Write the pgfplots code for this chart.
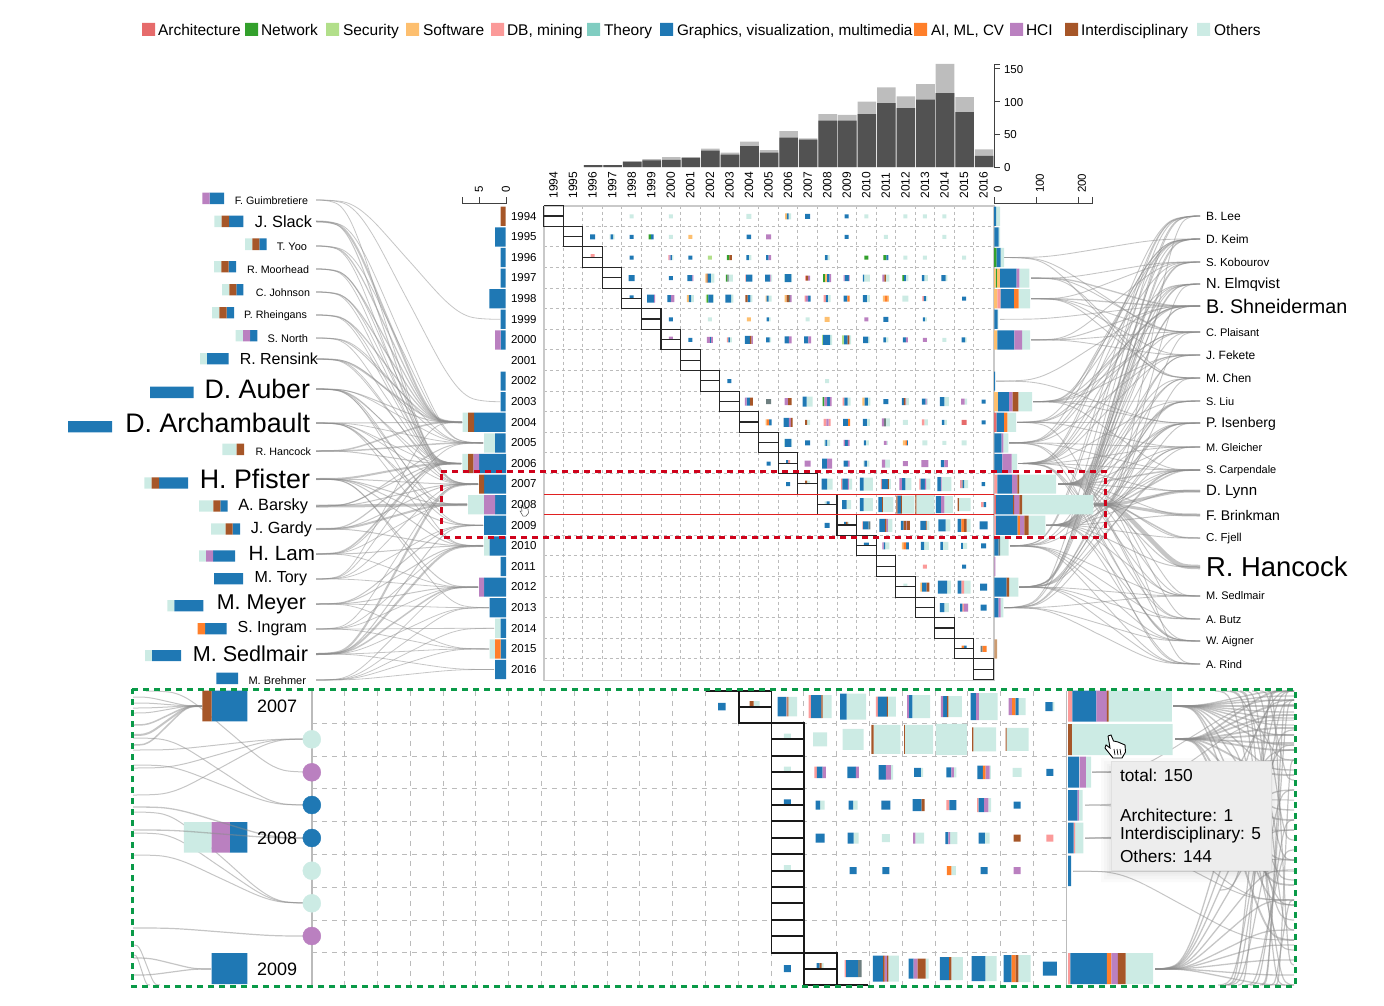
\documentclass[border=0pt]{standalone}
\usepackage{fontspec}
\setmainfont{Liberation Sans}
\usepackage{pgfplots}
\pgfplotsset{compat=1.18}
\definecolor{cA}{HTML}{E66B6B}
\definecolor{cN}{HTML}{33A02C}
\definecolor{cS}{HTML}{B2DF8A}
\definecolor{cW}{HTML}{FDBF6F}
\definecolor{cD}{HTML}{FB9A99}
\definecolor{cT}{HTML}{80CDC1}
\definecolor{cG}{HTML}{1F78B4}
\definecolor{cI}{HTML}{FF7F2A}
\definecolor{cH}{HTML}{BA80C0}
\definecolor{cB}{HTML}{A65628}
\definecolor{cO}{HTML}{CCEBE4}
\definecolor{cK}{HTML}{525252}
\definecolor{cL}{HTML}{BDBDBD}
\definecolor{cP}{HTML}{CC9C72}
\definecolor{cM}{HTML}{6E7F80}
\definecolor{linkc}{HTML}{8C8C8C}
\definecolor{gridc}{HTML}{BBBBBB}
\definecolor{redb}{HTML}{D0021B}
\definecolor{redl}{HTML}{E02020}
\definecolor{greenb}{HTML}{0A9A48}
\makeatletter
\@for\k:=A,N,S,W,D,T,G,I,H,B,O,K,L,P,M\do{\expandafter\gdef\csname Rc\k\endcsname{}}
\makeatother
\gdef\Grid{}\gdef\LensGrid{}\gdef\Box{}\gdef\LensBox{}
\newcommand\addrect[5]{\expandafter\xdef\csname Rc#1\endcsname{\csname Rc#1\endcsname(#2,#3)(#4,#3)(#4,#5)(#2,#5)(#2,#3)(nan,nan)}}
\newcommand\HB[6]{\pgfmathsetmacro\cxnow{#3+#5/#4}\xdef\cxnow{\cxnow}\foreach \cc/\ee in {#6}{\pgfmathsetmacro\nx{#3+\ee/#4}\addrect{\cc}{\cxnow}{#1}{\nx}{#2}\xdef\cxnow{\nx}}}
\newcommand\YB[5]{\pgfmathsetmacro\ya{216.3+20.6*(#1-1994)-9.6}\pgfmathsetmacro\yb{\ya+19.2}\HB{\ya}{\yb}{#2}{#3}{#4}{#5}}
\newcommand\G[5]{\pgfmathsetmacro\cxnow{#1-#3/2}\xdef\cxnow{\cxnow}\pgfmathsetmacro\ya{#2-#4/2}\pgfmathsetmacro\yb{#2+#4/2}\foreach \cc/\ff in {#5}{\pgfmathsetmacro\nx{\cxnow+#3*\ff}\addrect{\cc}{\cxnow}{\ya}{\nx}{\yb}\xdef\cxnow{\nx}}}
\newcommand\g[4]{\pgfmathsetmacro\gx{553.48+19.55*(#2-1994)}\pgfmathsetmacro\gy{216.3+20.6*(#1-1994)}\G{\gx}{\gy}{#3}{#3}{#4}}
\newcommand\gd[3]{\pgfmathsetmacro\gx{553.48+19.55*(#1-1994)}\pgfmathsetmacro\gy{216.3+20.6*(#1-1994)-1.7}\G{\gx}{\gy}{#2}{3.4}{#3}}
\newcommand\gl[4]{\pgfmathsetmacro\gx{311.8+32.8*(#2+.5)}\G{\gx}{#1}{#3}{#3}{#4}}
\newcommand\gld[4]{\pgfmathsetmacro\gx{311.8+32.8*(#2+.5)}\pgfmathsetmacro\gy{#1-2.8}\G{\gx}{\gy}{#3}{5.6}{#4}}
\newcommand\topbar[3]{\pgfmathsetmacro\xa{544.7+19.55*(#1-1994)}\pgfmathsetmacro\xb{\xa+18.6}\pgfmathsetmacro\yd{167-.653*#2}\pgfmathsetmacro\yt{167-.653*#3}\addrect{L}{\xa}{\yt}{\xb}{167}\addrect{K}{\xa}{\yd}{\xb}{167}}
\newcommand\lnk[5]{\pgfmathsetmacro\dx{#3-(#1)}\pgfmathsetmacro\dy{#4-(#2)}%
\pgfmathsetmacro\xa{#1+.166*\dx}\pgfmathsetmacro\ya{#2+.022*\dy}%
\pgfmathsetmacro\xb{#1+.297*\dx}\pgfmathsetmacro\yb{#2+.156*\dy}%
\pgfmathsetmacro\xc{#1+.5*\dx}\pgfmathsetmacro\yc{#2+.5*\dy}%
\pgfmathsetmacro\xd{#1+.703*\dx}\pgfmathsetmacro\yd{#2+.844*\dy}%
\pgfmathsetmacro\xe{#1+.834*\dx}\pgfmathsetmacro\ye{#2+.978*\dy}%
\edef\temp{\noexpand\addplot[color=linkc,opacity=.5,smooth,tension=.55,line width=#5pt,forget plot] coordinates {(#1,#2)(\xa,\ya)(\xb,\yb)(\xc,\yc)(\xd,\yd)(\xe,\ye)(#3,#4)};}\temp}
\newcommand\AL[2]{\foreach \yr/\wt in {#2}{\edef\ex{\csname Lx\yr\endcsname}\pgfmathsetmacro\ey{216.3+20.6*(\yr-1994)}\lnk{316}{#1}{\ex}{\ey}{\wt}}}
\newcommand\AR[2]{\foreach \yr/\wt in {#2}{\edef\ex{\csname Rx\yr\endcsname}\pgfmathsetmacro\ey{216.3+20.6*(\yr-1994)}\lnk{\ex}{\ey}{1200}{#1}{\wt}}}
\newcommand\T[5]{\node[anchor=#4,inner sep=0pt,outer sep=0pt,yshift=-.5pt,font=\fontsize{#3}{#3}\selectfont] at (axis cs:#1,#2) {#5};}
\newcommand\TB[4]{\node[anchor=base west,inner sep=0pt,outer sep=0pt,font=\fontsize{#3}{#3}\selectfont] at (axis cs:#1,#2) {#4};}
\newcommand\TR[5]{\node[anchor=#4,rotate=90,inner sep=0pt,outer sep=0pt,font=\fontsize{#3}{#3}\selectfont] at (axis cs:#1,#2) {#5};}
\foreach \yr/\v in {1994/500,1995/494,1996/500,1997/500,1998/488,1999/500,2000/494,2001/505,2002/500,2003/500,2004/462,2005/483,2006/461,2007/478,2008/467,2009/483,2010/483,2011/500,2012/478,2013/489,2014/494,2015/489,2016/494}{\expandafter\xdef\csname Lx\yr\endcsname{\v}}
\foreach \yr/\v in {1994/1001,1995/1001,1996/1004,1997/1031,1998/1031,1999/1000,2000/1031,2001/996,2002/996,2003/1033,2004/1017,2005/1009,2006/1018,2007/1058,2008/1094,2009/1046,2010/1010,2011/997,2012/1019,2013/1004,2014/996,2015/998,2016/996}{\expandafter\xdef\csname Rx\yr\endcsname{\v}}
\begin{document}
\begin{tikzpicture}
\path[use as bounding box] (0,0) rectangle (1384pt,1006pt);
% ---------- legend swatches
\addrect{A}{142}{23}{155}{36}\addrect{N}{245}{23}{258}{36}\addrect{S}{326}{23}{339}{36}\addrect{W}{406}{23}{419}{36}\addrect{D}{491}{23}{504}{36}\addrect{T}{587}{23}{600}{36}\addrect{G}{660}{23}{673}{36}\addrect{I}{914}{23}{927}{36}\addrect{H}{1010}{23}{1023}{36}\addrect{B}{1065}{23}{1078}{36}\addrect{O}{1197}{23}{1210}{36}
% ---------- top histogram
\topbar{1996}{3}{3}\topbar{1997}{3}{3}\topbar{1998}{8}{9}\topbar{1999}{10}{12}\topbar{2000}{11}{15}\topbar{2001}{14}{15}\topbar{2002}{25}{28}\topbar{2003}{19}{22}\topbar{2004}{32}{39}\topbar{2005}{22}{26}\topbar{2006}{45}{55}\topbar{2007}{42}{44}\topbar{2008}{71}{81}\topbar{2009}{71}{80}\topbar{2010}{81}{100}\topbar{2011}{98}{122}\topbar{2012}{90}{108}\topbar{2013}{103}{127}\topbar{2014}{113}{158}\topbar{2015}{84}{107}\topbar{2016}{17}{27}
% ---------- left year bars
\YB{1994}{460}{3}{122}{B/137}\YB{1995}{460}{3}{105}{G/137}\YB{1996}{460}{3}{122}{G/137}\YB{1997}{460}{3}{122}{G/137}\YB{1998}{460}{3}{88}{G/137}\YB{1999}{460}{3}{122}{G/137}\YB{2000}{460}{3}{105}{H/122,G/137}\YB{2002}{460}{3}{122}{G/137}\YB{2003}{460}{3}{122}{G/137}\YB{2004}{460}{3}{8}{O/24,B/42,G/137}\YB{2005}{460}{3}{72}{O/105,G/137}
\YB{2006}{440}{3}{67}{O/84,B/100,H/117,G/198}\YB{2007}{440}{3}{117}{B/132,G/198}\YB{2008}{440}{3}{84}{O/132,H/165,G/198}\YB{2009}{440}{3}{132}{G/198}\YB{2010}{440}{3}{132}{O/149,G/198}\YB{2011}{440}{3}{182}{G/198}\YB{2012}{440}{3}{117}{H/132,G/198}\YB{2013}{440}{3}{149}{G/198}\YB{2014}{440}{3}{165}{O/182,G/198}\YB{2015}{440}{3}{149}{O/165,I/182,G/198}\YB{2016}{440}{3}{165}{G/198}
% ---------- right year bars
\YB{1994}{750}{3}{732}{G/738,O/750}\YB{1995}{750}{3}{733}{G/746,O/750}\YB{1996}{750}{3}{732}{N/740,G/752,O/762}\YB{1997}{750}{3}{732}{W/737,N/741,W/750,G/800,H/808,O/838}\YB{1998}{750}{3}{732}{W/742,D/752,G/792,I/806,O/840}\YB{1999}{750}{3}{733}{G/743,O/745}\YB{2000}{750}{3}{732}{W/742,G/793,H/816,O/840}\YB{2002}{750}{3}{732}{G/735}\YB{2003}{750}{3}{732}{W/744,G/777,H/788,B/805,O/846}\YB{2004}{750}{3}{732}{A/740,G/762,I/772,O/798}
\YB{2005}{760}{3}{703}{G/725,H/730,O/745}\YB{2006}{760}{3}{703}{G/727,H/755,O/771}\YB{2007}{760}{3}{703}{D/712,G/756,H/772,B/777,O/888}\YB{2008}{760}{3}{703}{A/708,G/759,B/762,H/778,B/786,O/1000}\YB{2009}{760}{3}{703}{D/708,G/773,I/780,H/793,B/806,O/856}\YB{2010}{760}{3}{703}{G/716,M/720,O/746}\YB{2011}{760}{3}{703}{H/706}\YB{2012}{760}{3}{703}{G/740,B/747,O/775}\YB{2013}{760}{3}{703}{G/716,H/722,O/730}\YB{2015}{760}{3}{703}{P/711}
% ---------- author bars, left
\HB{192.7}{204}{60}{3}{427}{H/449,G/492}\HB{215.7}{227}{60}{3}{463}{O/485,B/507,G/550}\HB{238.3}{250}{60}{3}{555}{O/577,B/598,G/620}\HB{261}{272.3}{60}{3}{462}{O/484,B/506,G/528}\HB{284}{295.3}{60}{3}{486}{O/508,B/529,G/550}\HB{307}{318.3}{60}{3}{456}{O/478,B/500,G/522}\HB{330}{341.3}{60}{3}{527}{O/549,H/570,G/592}\HB{353}{364.3}{60}{3}{420}{O/441,G/506}\HB{386.7}{398}{60}{3}{270}{G/401}\HB{421}{432.3}{60}{3}{24}{G/156}
\HB{443.7}{455}{60}{3}{487}{O/530,B/552}\HB{477.3}{488.7}{60}{3}{253}{O/275,B/297,G/384}\HB{500.3}{511.7}{60}{3}{417}{O/460,B/481,G/503}\HB{523.3}{534.7}{60}{3}{453}{O/497,B/518,G/540}\HB{550.3}{561.7}{60}{3}{417}{O/438,H/459,G/525}\HB{573}{584.3}{60}{3}{462}{G/549}\HB{600}{611.3}{60}{3}{322}{O/343,G/430}\HB{623}{634.3}{60}{3}{413}{I/435,G/500}\HB{650}{661}{60}{3}{255}{O/276,G/363}\HB{672.7}{684}{60}{3}{469}{G/534}
% ---------- matrix glyphs
\g{1994}{1998}{4}{O/1}\g{1994}{2000}{4}{O/1}\g{1994}{2004}{5}{O/1}\g{1994}{2006}{6}{W/.3,G/.3,O/.4}\g{1994}{2007}{5}{G/1}\g{1994}{2009}{4}{G/1}\g{1994}{2010}{4}{O/1}\g{1994}{2012}{4}{O/1}\g{1994}{2013}{4}{O/1}\g{1994}{2014}{4}{O/1}
\g{1995}{1996}{5}{G/1}\g{1995}{1997}{5}{O/.2,G/.5,O/.3}\g{1995}{1998}{4}{G/1}\g{1995}{1999}{5}{N/.5,G/.5}\g{1995}{2000}{4}{O/1}\g{1995}{2001}{4}{W/1}\g{1995}{2004}{4.5}{G/1}\g{1995}{2005}{5}{H/1}\g{1995}{2009}{4}{G/1}\g{1995}{2011}{4}{O/1}\g{1995}{2014}{4}{O/1}
\gd{1996}{4}{D/1}\g{1996}{1998}{4}{G/1}\g{1996}{2000}{5}{D/.2,H/.2,G/.3,O/.3}\g{1996}{2001}{4}{G/1}\g{1996}{2002}{4}{S/1}\g{1996}{2003}{5}{N/.5,B/.5}\g{1996}{2004}{5}{G/.5,O/.5}\g{1996}{2005}{5}{G/.5,H/.5}\g{1996}{2008}{5}{O/.1,G/.5,O/.4}\g{1996}{2010}{4}{N/1}\g{1996}{2011}{5}{N/.6,G/.4}\g{1996}{2012}{4}{O/1}\g{1996}{2013}{4}{O/1}\g{1996}{2015}{4}{O/1}
\g{1997}{1998}{6}{G/1}\g{1997}{2000}{4}{G/1}\g{1997}{2001}{6}{G/.85,H/.15}\g{1997}{2002}{9}{W/.15,B/.1,G/.35,O/.4}\g{1997}{2003}{7}{N/.2,M/.2,O/.6}\g{1997}{2004}{7}{D/.1,G/.9}\g{1997}{2005}{7}{G/.7,H/.1,O/.2}\g{1997}{2006}{8}{O/.1,G/.8,O/.1}\g{1997}{2007}{5}{D/.2,B/.4,H/.4}\g{1997}{2008}{8}{N/.25,W/.25,G/.3,H/.2}\g{1997}{2009}{6}{H/.15,G/.7,H/.15}\g{1997}{2010}{7}{G/.2,O/.8}\g{1997}{2011}{7}{H/.3,B/.2,O/.5}\g{1997}{2012}{6}{N/.3,G/.3,O/.4}\g{1997}{2013}{6}{G/.4,O/.6}\g{1997}{2014}{6}{G/.7,O/.3}
\gd{1998}{4}{G/1}\g{1998}{1999}{8}{G/.85,H/.15}\g{1998}{2000}{7}{G/.5,H/.5}\g{1998}{2001}{7}{W/.3,G/.3,O/.4}\g{1998}{2002}{8}{S/.15,N/.15,G/.6,O/.1}\g{1998}{2003}{8}{G/.7,O/.3}\g{1998}{2004}{7}{B/.3,G/.4,O/.3}\g{1998}{2005}{6}{W/.2,G/.3,O/.5}\g{1998}{2006}{7}{W/.3,B/.3,M/.2,H/.2}\g{1998}{2007}{6}{D/.2,H/.4,G/.4}\g{1998}{2008}{7}{D/.3,G/.3,O/.4}\g{1998}{2009}{6}{G/.6,I/.4}\g{1998}{2010}{7}{G/.6,O/.4}\g{1998}{2011}{6}{W/.3,I/.5,W/.2}\g{1998}{2012}{6}{O/1}\g{1998}{2013}{5}{D/.3,G/.4,O/.3}\g{1998}{2015}{4}{G/1}
\g{1999}{2000}{4}{G/1}\g{1999}{2002}{4}{O/1}\g{1999}{2004}{4}{W/1}\g{1999}{2005}{4}{G/.6,O/.4}\g{1999}{2007}{4}{O/1}\g{1999}{2008}{5}{W/1}\g{1999}{2010}{4}{H/1}\g{1999}{2011}{5}{G/1}\g{1999}{2013}{4}{G/.5,O/.5}
\gd{2000}{4}{H/1}\g{2000}{2001}{4}{G/1}\g{2000}{2002}{6}{H/.5,G/.2,H/.3}\g{2000}{2003}{5}{D/.3,G/.3,O/.4}\g{2000}{2004}{8}{G/.6,B/.2,H/.2}\g{2000}{2005}{5}{G/.7,O/.3}\g{2000}{2006}{7}{G/.6,H/.4}\g{2000}{2007}{7}{G/.6,H/.4}\g{2000}{2008}{10}{S/.1,G/.7,O/.2}\g{2000}{2009}{9}{S/.2,G/.4,B/.2,O/.2}\g{2000}{2010}{6.5}{G/.8,O/.2}\g{2000}{2011}{5}{G/.5,O/.5}\g{2000}{2012}{5}{G/.6,H/.4}\g{2000}{2013}{4}{H/1}\g{2000}{2014}{4}{O/1}\g{2000}{2015}{5}{G/.7,O/.3}
\g{2002}{2003}{4}{G/1}\g{2002}{2008}{4}{O/1}
\g{2003}{2004}{8}{H/.2,G/.4,B/.4}\g{2003}{2005}{5}{M/1}\g{2003}{2006}{7}{H/.5,B/.5}\g{2003}{2007}{10}{G/.4,O/.6}\g{2003}{2008}{9}{N/.2,H/.3,G/.3,H/.2}\g{2003}{2009}{8}{D/.2,G/.4,O/.4}\g{2003}{2010}{8}{W/.3,G/.4,O/.3}\g{2003}{2011}{5}{G/1}\g{2003}{2012}{7}{G/.3,B/.2,H/.1,O/.4}\g{2003}{2013}{6}{G/.6,H/.2,O/.2}\g{2003}{2014}{9}{G/.5,O/.5}\g{2003}{2015}{6}{H/.6,O/.4}\g{2003}{2016}{4}{G/1}
\g{2004}{2005}{6}{W/.2,I/.4,G/.4}\g{2004}{2006}{9}{G/.6,H/.2,B/.2}\g{2004}{2007}{5}{B/.4,O/.6}\g{2004}{2008}{7}{D/.4,H/.3,D/.3}\g{2004}{2009}{7}{G/.7,I/.3}\g{2004}{2010}{7}{G/.6,O/.4}\g{2004}{2011}{8}{H/.3,M/.2,O/.5}\g{2004}{2012}{5}{O/1}\g{2004}{2013}{6}{D/.4,O/.6}\g{2004}{2014}{5}{G/.5,O/.5}\g{2004}{2015}{5}{A/1}\g{2004}{2016}{4}{G/1}
\g{2005}{2006}{8}{O/.1,G/.8,O/.1}\g{2005}{2007}{5}{G/1}\g{2005}{2008}{6}{O/.2,G/.3,O/.5}\g{2005}{2009}{6}{H/.2,G/.5,H/.3}\g{2005}{2010}{5}{G/.4,O/.6}\g{2005}{2011}{4}{H/.7,O/.3}\g{2005}{2012}{5}{W/.5,I/.3,G/.2}\g{2005}{2013}{5}{O/1}\g{2005}{2014}{4}{O/1}\g{2005}{2015}{5}{O/1}
\g{2006}{2005}{4}{G/1}\gd{2006}{4}{G/.5,D/.5}\g{2006}{2007}{6}{H/1}\g{2006}{2008}{10}{G/.5,H/.5}\g{2006}{2009}{6}{G/.7,H/.3}\g{2006}{2010}{6}{O/.2,G/.4,O/.4}\g{2006}{2011}{8}{H/.4,O/.6}\g{2006}{2012}{5}{H/1}\g{2006}{2013}{7}{H/1}\g{2006}{2014}{7}{G/.5,H/.5}
\g{2007}{2006}{4}{G/1}\gd{2007}{5}{B/.4,O/.6}\g{2007}{2008}{11}{G/.5,O/.5}\g{2007}{2009}{11}{D/.1,G/.5,H/.1,O/.3}\g{2007}{2010}{13}{G/.3,O/.7}\g{2007}{2011}{10}{D/.1,G/.6,B/.1,O/.2}\g{2007}{2012}{12}{H/.2,G/.3,O/.5}\g{2007}{2013}{11}{D/.1,G/.4,H/.1,O/.4}\g{2007}{2014}{14}{G/.25,H/.05,O/.7}\g{2007}{2015}{8}{D/.1,H/.1,I/.1,G/.2,O/.5}\g{2007}{2016}{4}{G/.8,O/.2}
\gd{2008}{5}{O/.4,G/.6}\g{2008}{2009}{9}{G/.5,O/.5}\g{2008}{2010}{13}{G/.3,O/.7}\g{2008}{2011}{15}{G/.25,B/.05,O/.7}\g{2008}{2012}{18}{B/.05,G/.2,B/.05,O/.7}\g{2008}{2013}{19}{B/.05,O/.95}\g{2008}{2014}{17}{G/.3,H/.2,O/.5}\g{2008}{2015}{13}{B/.1,O/.9}\g{2008}{2016}{5}{D/.5,G/.5}
\g{2009}{2008}{5}{G/1}\gd{2009}{5}{G/.4,B/.3,O/.3}\g{2009}{2010}{8}{D/.1,G/.7,M/.2}\g{2009}{2011}{13}{G/.45,B/.1,H/.1,O/.35}\g{2009}{2012}{9}{G/.3,B/.3,H/.1,B/.3}\g{2009}{2013}{9}{G/.6,B/.1,O/.3}\g{2009}{2014}{12}{G/.6,O/.4}\g{2009}{2015}{13}{G/.3,I/.2,B/.2,O/.3}\g{2009}{2016}{8}{G/1}
\gd{2010}{5}{G/1}\g{2010}{2011}{7}{H/.2,G/.2,O/.6}\g{2010}{2012}{7}{W/.2,I/.4,G/.4}\g{2010}{2013}{8}{G/.4,O/.6}\g{2010}{2014}{8}{G/.3,O/.7}\g{2010}{2015}{6}{G/.3,O/.7}\g{2010}{2016}{5}{G/1}
\g{2011}{2013}{4}{D/1}\g{2011}{2015}{4}{G/1}
\gd{2012}{4}{O/1}\g{2012}{2013}{9}{W/.2,G/.5,B/.3}\g{2012}{2014}{13}{G/.7,O/.3}\g{2012}{2015}{13}{G/.3,D/.2,O/.5}\g{2012}{2016}{7}{G/1}
\g{2013}{2014}{9}{G/.5,O/.5}\g{2013}{2015}{8}{G/.3,D/.2,H/.5}\g{2013}{2016}{6}{G/1}
\gd{2015}{5}{I/.5,G/.5}\g{2015}{2016}{6}{M/.3,I/.7}
% ---------- lens glyphs and bars
\HB{690.7}{721.3}{130}{2.613}{189}{B/213,G/307}\HB{822}{852.7}{130}{2.613}{141}{O/213,H/261,G/307}\HB{953}{984}{130}{2.613}{213}{G/307}
\HB{690.7}{721.7}{700}{2.613}{962}{D/973,G/1036,H/1063,B/1068,O/1233}\HB{724}{755}{700}{2.613}{962}{B/972,O/1235}\HB{756.7}{787.7}{700}{2.613}{962}{G/990,O/992,H/1008,O/1022}\HB{790}{820.7}{700}{2.613}{962}{G/987,H/990,O/1000}\HB{822.7}{853.3}{700}{2.613}{962}{G/976,D/980,O/1002}\HB{855.7}{886}{700}{2.613}{962}{G/970}\HB{953}{984}{700}{2.613}{962}{D/968,G/1063,I/1075,H/1092,B/1112,O/1184}
\gl{706.7}{12}{7.5}{G/1}\gld{706.7}{13}{10}{B/.4,O/.6}\gl{706.7}{14}{19.5}{G/.45,D/.05,B/.05,O/.45}\gl{706.7}{15}{23}{D/.1,G/.45,B/.05,O/.4}\gl{706.7}{16}{26}{G/.25,O/.75}\gl{706.7}{17}{20}{D/.1,G/.45,B/.05,O/.4}\gl{706.7}{18}{23}{H/.08,G/.15,O/.77}\gl{706.7}{19}{21}{H/.1,G/.2,B/.05,O/.65}\gl{706.7}{20}{27}{G/.2,H/.1,O/.7}\gl{706.7}{21}{17}{H/.2,I/.2,G/.2,O/.4}\gl{706.7}{22}{9}{G/.8,O/.2}
\gld{739.3}{14}{7}{O/1}\gl{739.3}{15}{14}{O/1}\gl{739.3}{16}{21}{O/1}\gl{739.3}{17}{29}{B/.08,O/.92}\gl{739.3}{18}{29}{B/.03,O/.97}\gl{739.3}{19}{31}{O/1}\gl{739.3}{20}{24}{B/.05,O/.95}\gl{739.3}{21}{23}{B/.05,O/.95}
\gld{772.3}{14}{7}{O/1}\gl{772.3}{15}{11.5}{D/.2,G/.5,H/.3}\gl{772.3}{16}{11.5}{G/.75,H/.25}\gl{772.3}{17}{14.5}{G/.5,H/.35,O/.15}\gl{772.3}{18}{9}{G/.75,O/.25}\gl{772.3}{19}{10}{G/.5,H/.25,O/.25}\gl{772.3}{20}{13.5}{G/.4,I/.2,H/.3,O/.1}\gl{772.3}{21}{9}{O/1}\gl{772.3}{22}{7}{G/1}
\gld{805}{14}{7}{G/1}\gl{805}{15}{9}{G/.5,O/.5}\gl{805}{16}{9}{G/.5,O/.5}\gl{805}{17}{9}{G/1}\gl{805}{18}{12}{G/.75,B/.25}\gl{805}{19}{10}{D/.3,G/.7}\gl{805}{20}{14}{D/.1,G/.4,H/.3,O/.2}\gl{805}{21}{7}{G/1}
\gl{838}{15}{9}{G/1}\gl{838}{16}{11}{G/.55,O/.45}\gl{838}{17}{8}{O/1}\gl{838}{18}{11}{H/.2,O/.8}\gl{838}{19}{12}{G/.25,H/.15,O/.6}\gl{838}{20}{11}{G/.55,O/.45}\gl{838}{21}{7}{B/1}\gl{838}{22}{7}{D/1}
\gld{870.7}{14}{7}{O/1}\gl{870.7}{16}{7}{G/1}\gl{870.7}{17}{7}{G/1}\gl{870.7}{19}{9}{I/.5,O/.5}\gl{870.7}{20}{7}{G/1}\gl{870.7}{21}{7}{H/1}
\gl{968.7}{14}{7}{G/1}\gld{968.7}{15}{7}{G/.4,B/.3,O/.3}\gl{968.7}{16}{17}{D/.1,G/.7,M/.2}\gl{968.7}{17}{26}{G/.4,B/.05,H/.1,B/.05,O/.4}\gl{968.7}{18}{20}{G/.25,H/.2,B/.4,O/.15}\gl{968.7}{19}{23}{G/.4,B/.1,O/.5}\gl{968.7}{20}{25}{G/.55,O/.45}\gl{968.7}{21}{27}{G/.3,I/.15,B/.1,O/.45}\gl{968.7}{22}{14}{G/1}
% ---------- grids and diagonal boxes
\foreach \i in {1,...,22}{\pgfmathsetmacro\px{543.7+19.55*\i}\pgfmathsetmacro\py{205.7+20.6*\i}\xdef\Grid{\Grid(\px,205.7)(\px,679.5)(nan,nan)(543.7,\py)(993.4,\py)(nan,nan)}}
\foreach \i in {0,...,22}{\pgfmathsetmacro\xa{543.7+19.55*\i}\pgfmathsetmacro\xb{\xa+19.55}\pgfmathsetmacro\ya{205.7+20.6*\i}\pgfmathsetmacro\yb{\ya+20.6}\pgfmathsetmacro\yc{\ya+10.3}\xdef\Box{\Box(\xa,\ya)(\xb,\ya)(\xb,\yb)(\xa,\yb)(\xa,\ya)(nan,nan)(\xa,\yc)(\xb,\yc)(nan,nan)}}
\foreach \i in {1,...,22}{\pgfmathsetmacro\px{311.8+32.8*\i}\xdef\LensGrid{\LensGrid(\px,690.7)(\px,985)(nan,nan)}}
\foreach \py in {723.3,756,788.7,821.3,854.3,887,920,952.7}{\xdef\LensGrid{\LensGrid(311.8,\py)(1066.6,\py)(nan,nan)}}
\foreach \xa/\xb/\ya/\yc/\yb in {738.7/771.6/690.7/706.7/723.3,771.6/804.2/723.3/739.3/756,771.6/804.2/756/772.3/788.7,771.6/804.2/788.7/805/821.3,771.6/804.2/821.3/838/854.3,771.6/804.2/854.3/870.7/887,771.6/804.2/887/903.3/920,771.6/804.2/920/936/952.7,804.2/837/952.7/968.7/985}{\xdef\LensBox{\LensBox(\xa,\ya)(\xb,\ya)(\xb,\yb)(\xa,\yb)(\xa,\ya)(nan,nan)(\xa,\yc)(\xb,\yc)(nan,nan)}}
\xdef\LensBox{\LensBox(706,690.7)(738.7,690.7)(nan,nan)(837,985)(868,985)(nan,nan)}
\begin{axis}[at={(0,0)},anchor=south west,scale only axis,width=1384pt,height=1006pt,
  xmin=0,xmax=1384,ymin=0,ymax=1006,y dir=reverse,hide axis,clip=false,
  unbounded coords=jump,filter discard warning=false]
% grids
\edef\temp{\noexpand\addplot[color=gridc,line width=.9pt,dash pattern=on 3pt off 3pt,forget plot] coordinates {\Grid};}\temp
\edef\temp{\noexpand\addplot[color=gridc,line width=1pt,dash pattern=on 5pt off 5pt,forget plot] coordinates {\LensGrid};}\temp
\addplot[color=gridc!80,line width=1.6pt,forget plot] coordinates {(543.7,205.7)(543.7,680.3)(994,680.3)(994,205)(nan,nan)(543.7,205.7)(994,205.7)};
\addplot[color=gridc,line width=1.6pt,forget plot] coordinates {(311.8,690.7)(311.8,985)(nan,nan)(1066.6,690.7)(1066.6,985)};
% author links, left
\AL{200}{1999/.8,2003/.8,2006/.8}
\AL{221.5}{2004/2,2005/.8,2006/1}
\AL{246}{2004/1.2,2005/.8,2006/.8}
\AL{269}{2004/1.2,2006/.8,2007/.8}
\AL{292}{2004/1.2,2006/.8,2007/.8}
\AL{315}{2004/1.2,2006/.8,2007/.8}
\AL{338}{2004/1,2005/.8,2006/.8}
\AL{359}{2004/1.5,2005/.8,2006/.8,2007/.8}
\AL{389}{2004/1,2005/.8,2006/.8,2007/.8,2008/.8,2009/.8,2010/.8}
\AL{423}{2004/1,2005/.8,2006/.8,2007/.8,2008/.8,2009/.8,2010/.8}
\AL{451}{2004/1.5,2005/1.5,2006/1}
\AL{479}{2006/2,2007/1,2008/1,2009/1,2010/1,2012/1,2013/.8}
\AL{506}{2005/1,2006/1,2007/1,2008/3}
\AL{529}{2006/1.2,2007/1,2008/2,2010/1}
\AL{554}{2005/.8,2006/1.5,2008/.8,2010/1,2012/.8}
\AL{579}{2004/.8,2006/.8,2007/.8,2009/.8,2012/.8}
\AL{604}{2009/1,2010/1,2012/1,2013/.8,2015/.8}
\AL{629}{2007/.8,2010/.8,2012/.8,2014/.8,2015/.8}
\AL{654}{2007/2,2009/1,2010/2,2012/1.5,2013/.8,2015/.8,2016/.8}
\AL{680}{2012/.8,2013/.8,2014/.8,2015/.8,2016/.8}
% author links, right
\AR{216}{2006/.9,2007/.9,2008/.9,2009/.9,2010/.9,2012/.9,2013/.9}
\AR{239}{1996/.9,2003/.9,2004/.9,2005/.9,2006/.9,2007/.9,2009/.9,2010/.9,2012/.9}
\AR{262}{1997/.9,1998/.9,2000/.9,2003/.9,2007/.9,2009/.9,2012/.9}
\AR{284}{2005/.9,2006/.9,2007/.9,2008/.9,2009/.9,2012/.9,2013/.9}
\AR{306}{1997/1.3,1998/1.3,1999/.9,2000/1,2002/.9,2003/1,2004/1,2005/.9,2006/.9,2007/.9,2009/.9}
\AR{332}{1996/.9,1997/.9,1998/.9,2000/.9,2003/.9,2004/.9,2006/.9,2007/.9,2008/.9}
\AR{355}{1998/.9,2000/.9,2003/.9,2005/.9,2006/.9,2007/.9,2009/.9}
\AR{378}{1996/.9,1997/.9,1998/.9,2007/.9,2008/.9,2009/.9,2010/.9}
\AR{401}{2003/.9,2006/.9,2007/.9,2009/.9,2012/.9,2013/.9}
\AR{423}{2002/.9,2003/.9,2004/.9,2007/.9,2008/.9,2009/.9,2010/.9,2012/.9,2013/.9}
\AR{447}{2004/.9,2005/.9,2006/.9,2007/.9,2008/.9,2009/.9,2012/.9}
\AR{470}{2003/.9,2005/.9,2006/.9,2007/1.5,2008/1.5,2009/.9,2010/.9,2012/.9,2013/.9}
\AR{491}{2006/.9,2007/1,2008/3,2009/1}
\AR{515}{2007/.9,2008/3,2009/1}
\AR{538}{2007/.9,2008/1.5,2009/.9}
\AR{567}{2007/1,2008/4.5,2009/1}
\AR{596}{2005/.9,2007/.9,2008/.9,2009/.9,2010/.9,2012/.9,2013/.9}
\AR{619}{2004/.9,2006/.9,2008/.9,2010/.9,2012/.9}
\AR{641}{2005/.9,2006/.9,2007/.9,2009/.9,2010/.9,2012/.9,2013/.9}
\AR{664}{2006/.9,2008/.9,2009/.9,2010/.9,2012/.9,2013/.9}
% lens links, left
\foreach \a/\w in {697/1,703/1,708/1,713/1,725/1.5,735/2,745/1.5}{\lnk{133}{\a}{202}{706}{\w}}
\foreach \a in {750,768,795}{\lnk{133}{\a}{311}{739}{1}}
\lnk{146}{691}{311}{772}{1}
\foreach \a in {738,765}{\lnk{133}{\a}{311}{805}{1}}
\foreach \a in {812,833,855}{\lnk{133}{\a}{311}{903}{1}}
\lnk{133}{928}{311}{936}{1.2}
\foreach \a in {958,975}{\lnk{133}{\a}{211}{969}{1.2}}
\lnk{133}{945}{160}{985}{1}\lnk{133}{955}{150}{985}{1}
% lens links, right
\foreach \a in {691,696,700,706,712,718,725,735,745,770,810,860,905}{\lnk{1173}{706}{1294}{\a}{1.4}}
\foreach \a in {691,705,715,728,735,743,750,775,820,885,940}{\lnk{1175}{739}{1294}{\a}{1.8}}
\foreach \a in {700,800,860}{\lnk{1092}{772}{1294}{\a}{1}}
\foreach \a in {720,900}{\lnk{1085}{805}{1294}{\a}{1}}
\foreach \a in {760,830,900}{\lnk{1085}{838}{1294}{\a}{1}}
\foreach \a in {871,940}{\lnk{1073}{871}{1294}{\a}{1}}
\foreach \a in {985,975,960,945,930,900,870,830,790,750,700}{\lnk{1155}{969}{1294}{\a}{1.3}}
\lnk{1215}{691}{1294}{920}{1.2}\lnk{1235}{691}{1294}{860}{1.2}\lnk{1260}{691}{1294}{780}{1.2}\lnk{1225}{985}{1294}{700}{1.2}\lnk{1250}{985}{1294}{820}{1.2}\lnk{1270}{985}{1294}{900}{1.2}\lnk{1240}{691}{1285}{985}{1.2}\lnk{1225}{985}{1280}{691}{1.2}\lnk{1262}{985}{1290}{691}{1.2}\lnk{1222}{691}{1294}{760}{1.2}\lnk{1230}{691}{1294}{985}{1.2}\lnk{1245}{691}{1294}{930}{1.2}\lnk{1252}{691}{1294}{840}{1.2}\lnk{1268}{691}{1294}{965}{1.2}\lnk{1238}{985}{1276}{691}{1.2}\lnk{1218}{985}{1294}{730}{1.2}\lnk{1228}{985}{1294}{790}{1.2}\lnk{1245}{985}{1294}{850}{1.2}\lnk{1275}{985}{1294}{760}{1.2}\lnk{1260}{985}{1294}{700}{1.2}\lnk{1220}{890}{1294}{691}{1.2}\lnk{1215}{780}{1294}{691}{1.2}\lnk{1222}{860}{1294}{745}{1.2}\lnk{1218}{740}{1294}{880}{1.2}\lnk{1220}{770}{1294}{950}{1.2}\lnk{1225}{810}{1294}{905}{1.2}
% bars
\foreach \k in {L,K,O,A,N,S,W,D,T,G,I,H,B,P,M}{\edef\temp{\noexpand\addplot[fill=c\k,draw=none,forget plot] coordinates {\csname Rc\k\endcsname};}\temp}
\foreach \a in {807,830}{\lnk{133}{\a}{311}{838}{1.3}}
% diagonal boxes
\edef\temp{\noexpand\addplot[color=black!85,line width=1.1pt,forget plot] coordinates {\Box};}\temp
\edef\temp{\noexpand\addplot[color=black!90,line width=1.7pt,forget plot] coordinates {\LensBox};}\temp
% lens circles
\addplot[only marks,mark=*,mark size=9pt,color=cO,mark options={draw=none},forget plot] coordinates {(311.8,739.3)(311.8,870.7)(311.8,903.3)};
\addplot[only marks,mark=*,mark size=9pt,color=cH,mark options={draw=none},forget plot] coordinates {(311.8,772.3)(311.8,936)};
\addplot[only marks,mark=*,mark size=9pt,color=cG,mark options={draw=none},forget plot] coordinates {(311.8,805)(311.8,838)};
% axes
\addplot[color=black!75,line width=1pt,forget plot] coordinates {(1000,65)(994.3,65)(994.3,167)(1000,167)(nan,nan)(994.3,134.3)(1000,134.3)(nan,nan)(994.3,101.7)(1000,101.7)(nan,nan)(994.3,69)(1000,69)};
\addplot[color=black!75,line width=1pt,forget plot] coordinates {(994.7,197)(994.7,203.3)(1092.7,203.3)(1092.7,197)(nan,nan)(1036.7,197)(1036.7,203.3)(nan,nan)(1078,197)(1078,203.3)};
\addplot[color=black!75,line width=1pt,forget plot] coordinates {(462.5,197)(462.5,203.3)(506,203.3)(506,197)(nan,nan)(479.5,197)(479.5,203.3)};
% selection lines and boxes
\addplot[color=redl,line width=1pt,forget plot] coordinates {(544,494.5)(994,494.5)};
\addplot[color=redl,line width=1pt,forget plot] coordinates {(544,514.5)(994,514.5)};
\addplot[color=redb,line width=3pt,dash pattern=on 6pt off 5pt,forget plot] coordinates {(441,471.7)(1105.7,471.7)(1105.7,537.3)(441,537.3)(441,471.7)};
\addplot[color=greenb,line width=3pt,dash pattern=on 6pt off 5pt,forget plot] coordinates {(132,689)(1295,689)(1295,986)(132,986)(132,689)};
% tooltip
\foreach \s in {10,7,4,2}{\pgfmathsetmacro\xa{1111-\s}\pgfmathsetmacro\xb{1271+\s}\pgfmathsetmacro\ya{768-\s}\pgfmathsetmacro\yb{872+\s}\edef\temp{\noexpand\addplot[fill=black,fill opacity=.02,draw=none,forget plot] coordinates {(\xa,\ya)(\xb,\ya)(\xb,\yb)(\xa,\yb)(\xa,\ya)};}\temp}
\addplot[fill=black!7,draw=black!12,line width=.6pt,forget plot] coordinates {(1111,761)(1271,761)(1271,870)(1111,870)(1111,761)};
% hand cursors
\addplot[fill=white,draw=black,line width=.9pt,forget plot] coordinates {(1108,736)(1111,735)(1113.5,741)(1118,742)(1125,745)(1125.5,752)(1122,758)(1113,758)(1105,748)(1106,745)(1110,748)(1108,736)};
\addplot[color=black,line width=.7pt,forget plot] coordinates {(1114,749)(1115,755)(nan,nan)(1117,749)(1118,755)(nan,nan)(1120,749)(1121,755)};
\addplot[fill=white,fill opacity=.7,draw=black!70,line width=.5pt,forget plot] coordinates {(521,505)(522.5,505)(523.5,508)(528,509)(528.5,513)(526,516)(523,516)(520,511)(522,511)(521,505)};
% ---------- text
\TB{158}{35.5}{15.5}{Architecture}\TB{261}{35.5}{15.5}{Network}\TB{343}{35.5}{15.5}{Security}\TB{423}{35.5}{15.5}{Software}\TB{507}{35.5}{15.5}{DB, mining}\TB{604}{35.5}{15.5}{Theory}\TB{677}{35.5}{15.3}{Graphics, visualization, multimedia}\TB{931}{35.5}{15.1}{AI, ML, CV}\TB{1026}{35.5}{15.5}{HCI}\TB{1081}{35.5}{15.4}{Interdisciplinary}\TB{1214}{35.5}{15.5}{Others}
\T{1004}{167}{11.5}{west}{0}\T{1004}{134.3}{11.5}{west}{50}\T{1004}{101.7}{11.5}{west}{100}\T{1004}{69}{11.5}{west}{150}
\foreach \yr in {1994,...,2016}{\pgfmathsetmacro\px{553.48+19.55*(\yr-1994)}\pgfmathsetmacro\py{215.6+20.6*(\yr-1994)}\edef\temp{\noexpand\TR{\px}{198.5}{12}{west}{\yr}\noexpand\T{511}{\py}{11.5}{west}{\yr}}\temp}
\TR{479}{193}{11.5}{west}{5}\TR{506}{193}{11.5}{west}{0}\TR{998}{193}{11.5}{west}{0}\TR{1040}{193}{11.5}{west}{100}\TR{1082}{193}{11.5}{west}{200}
% left names
\T{308}{200}{10.7}{east}{F. Guimbretiere}\T{312}{221}{16.3}{east}{J. Slack}\T{307}{246}{11}{east}{T. Yoo}\T{309}{269}{10.7}{east}{R. Moorhead}\T{310}{292}{10.7}{east}{C. Johnson}\T{307}{315}{10.7}{east}{P. Rheingans}\T{308}{338}{11}{east}{S. North}\T{318}{358.5}{16}{east}{R. Rensink}\T{310}{388.5}{26.7}{east}{D. Auber}\T{310}{422.5}{26.8}{east}{D. Archambault}\T{311}{451}{10.7}{east}{R. Hancock}\T{310}{478.5}{26.8}{east}{H. Pfister}\T{308}{505.5}{16.3}{east}{A. Barsky}\T{312}{528.5}{16.2}{east}{J. Gardy}\T{315}{553.5}{20.6}{east}{H. Lam}\T{307}{578.5}{16}{east}{M. Tory}\T{306}{603.5}{21.4}{east}{M. Meyer}\T{307}{628.5}{16}{east}{S. Ingram}\T{308}{653.5}{21.6}{east}{M. Sedlmair}\T{306}{680}{11}{east}{M. Brehmer}
% right names
\T{1206}{216}{12}{west}{B. Lee}\T{1206}{239}{12}{west}{D. Keim}\T{1206}{262}{11.5}{west}{S. Kobourov}\T{1206}{284.5}{14.6}{west}{N. Elmqvist}\T{1206}{306}{19.7}{west}{B. Shneiderman}\T{1206}{332}{11}{west}{C. Plaisant}\T{1206}{355}{12}{west}{J. Fekete}\T{1206}{378}{12}{west}{M. Chen}\T{1206}{401}{11}{west}{S. Liu}\T{1206}{423}{14}{west}{P. Isenberg}\T{1206}{447}{11}{west}{M. Gleicher}\T{1206}{470}{11}{west}{S. Carpendale}\T{1206}{491}{15}{west}{D. Lynn}\T{1206}{514.5}{14}{west}{F. Brinkman}\T{1206}{538}{11.5}{west}{C. Fjell}\T{1206}{566.5}{27.4}{west}{R. Hancock}\T{1206}{595.5}{11}{west}{M. Sedlmair}\T{1206}{619}{11}{west}{A. Butz}\T{1206}{641}{11}{west}{W. Aigner}\T{1206}{664}{11}{west}{A. Rind}
% lens labels and tooltip text
\T{257}{705.5}{18}{west}{2007}\T{257}{837.5}{18}{west}{2008}\T{257}{968.5}{18}{west}{2009}
\T{1120}{774.5}{17.3}{west}{total: 150}\T{1120}{814.5}{17.3}{west}{Architecture: 1}\T{1120}{834.5}{17.3}{west}{Interdisciplinary: 5}\T{1120}{855.5}{17.3}{west}{Others: 144}
\end{axis}
\end{tikzpicture}
\end{document}
